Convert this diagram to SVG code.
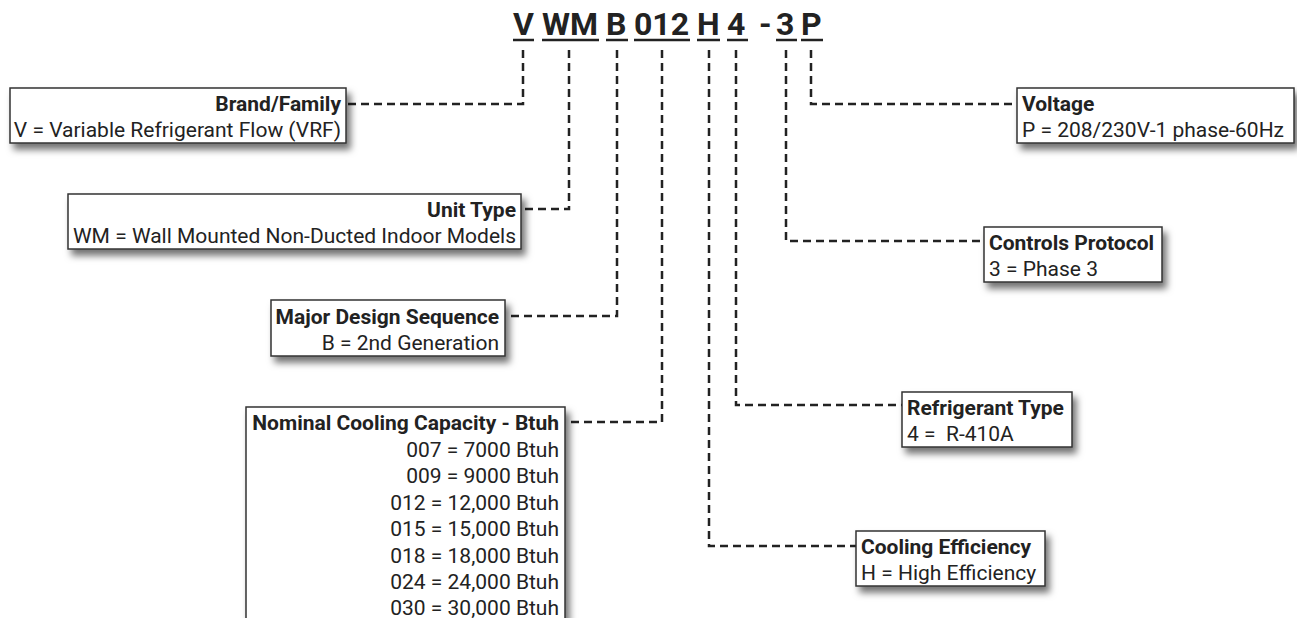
<svg xmlns="http://www.w3.org/2000/svg" width="1297" height="618" viewBox="0 0 1297 618">
<defs>
<filter id="sh" x="-10%" y="-20%" width="130%" height="160%">
<feDropShadow dx="4" dy="6" stdDeviation="3.5" flood-color="#000" flood-opacity="0.55"/>
</filter>
</defs>
<style>
.t{font-family:Roboto,"Liberation Sans",sans-serif;font-size:21px;fill:#222}
.b{font-weight:bold}
.r{text-anchor:end}
.pre{white-space:pre}
.ttl{font-family:Roboto,"Liberation Sans",sans-serif;font-size:32px;font-weight:bold;fill:#222}
.box{fill:#fff;stroke:#333;stroke-width:1.5;filter:url(#sh)}
.dash{fill:none;stroke:#222;stroke-width:2.5;stroke-dasharray:8 5}
.ul{stroke:#222;stroke-width:2.5}
</style>
<rect width="1297" height="618" fill="#fff"/>
<g id="title">
<text class="ttl" x="513" y="35">V</text>
<text class="ttl" x="542" y="35">WM</text>
<text class="ttl" x="606" y="35">B</text>
<text class="ttl" x="634" y="35">012</text>
<text class="ttl" x="697" y="35">H</text>
<text class="ttl" x="727" y="35">4</text>
<text class="ttl" x="759" y="35">-</text>
<text class="ttl" x="776" y="35">3</text>
<text class="ttl" x="801" y="35">P</text>
<line class="ul" x1="513" y1="40" x2="534" y2="40"/>
<line class="ul" x1="542" y1="40" x2="599" y2="40"/>
<line class="ul" x1="606" y1="40" x2="628" y2="40"/>
<line class="ul" x1="634" y1="40" x2="690" y2="40"/>
<line class="ul" x1="697" y1="40" x2="720" y2="40"/>
<line class="ul" x1="727" y1="40" x2="748" y2="40"/>
<line class="ul" x1="776" y1="40" x2="797" y2="40"/>
<line class="ul" x1="801" y1="40" x2="823" y2="40"/>
</g>
<g id="connectors">
<path class="dash" d="M523 50 V104 H347"/>
<path class="dash" d="M569 50 V209 H522"/>
<path class="dash" d="M617 50 V316 H506"/>
<path class="dash" d="M662 50 V422 H566"/>
<path class="dash" d="M709 50 V546 H856"/>
<path class="dash" d="M736 50 V405 H902"/>
<path class="dash" d="M786 50 V241 H984"/>
<path class="dash" d="M811 50 V104 H1017"/>
</g>
<g id="brand">
<rect class="box" x="10" y="88" width="336" height="55"/>
<text class="t b r" x="341" y="111">Brand/Family</text>
<text class="t r" x="341" y="137">V = Variable Refrigerant Flow (VRF)</text>
</g>
<g id="unit-type">
<rect class="box" x="68" y="194" width="453" height="55"/>
<text class="t b r" x="516" y="217">Unit Type</text>
<text class="t r" x="516" y="243">WM = Wall Mounted Non-Ducted Indoor Models</text>
</g>
<g id="major-design">
<rect class="box" x="271" y="300" width="234" height="56"/>
<text class="t b r" x="499" y="324">Major Design Sequence</text>
<text class="t r" x="499" y="350">B = 2nd Generation</text>
</g>
<g id="nominal">
<rect class="box" x="246" y="407" width="319" height="230"/>
<text class="t b r" x="559" y="430">Nominal Cooling Capacity - Btuh</text>
<text class="t r" x="559" y="457">007 = 7000 Btuh</text>
<text class="t r" x="559" y="483">009 = 9000 Btuh</text>
<text class="t r" x="559" y="510">012 = 12,000 Btuh</text>
<text class="t r" x="559" y="536">015 = 15,000 Btuh</text>
<text class="t r" x="559" y="563">018 = 18,000 Btuh</text>
<text class="t r" x="559" y="589">024 = 24,000 Btuh</text>
<text class="t r" x="559" y="615">030 = 30,000 Btuh</text>
</g>
<g id="voltage">
<rect class="box" x="1017" y="88" width="277" height="55"/>
<text class="t b" x="1022" y="111">Voltage</text>
<text class="t" x="1022" y="137">P = 208/230V-1 phase-60Hz</text>
</g>
<g id="controls">
<rect class="box" x="984" y="227" width="178" height="55"/>
<text class="t b" x="989" y="250">Controls Protocol</text>
<text class="t" x="989" y="276">3 = Phase 3</text>
</g>
<g id="refrigerant">
<rect class="box" x="902" y="392" width="170" height="55"/>
<text class="t b" x="907" y="415">Refrigerant Type</text>
<text class="t pre" x="907" y="441" xml:space="preserve">4 =  R-410A</text>
</g>
<g id="cooling-eff">
<rect class="box" x="856" y="531" width="189" height="55"/>
<text class="t b" x="861" y="554">Cooling Efficiency</text>
<text class="t" x="861" y="580">H = High Efficiency</text>
</g>
</svg>
